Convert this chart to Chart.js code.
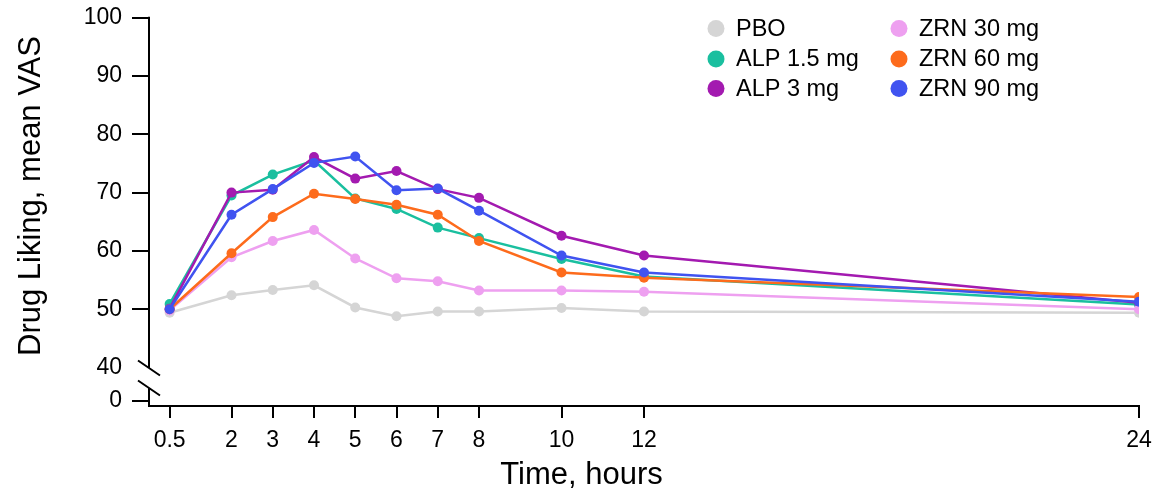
<!DOCTYPE html>
<html>
<head>
<meta charset="utf-8">
<script src="https://cdn.jsdelivr.net/npm/chart.js@4.4.1/dist/chart.umd.min.js"></script>
<style>
  html, body { margin: 0; padding: 0; background: #fff; }
</style>
</head>
<body>
<canvas id="chart" width="1155" height="491"></canvas>
<script>
// Sampling times (hours)
const hours = [0.5, 2, 3, 4, 5, 6, 7, 8, 10, 12, 24];

// Mean VAS drug liking per treatment
const seriesNames = ['PBO', 'ALP 1.5 mg', 'ALP 3 mg', 'ZRN 30 mg', 'ZRN 60 mg', 'ZRN 90 mg'];
const pbo   = [49.4, 52.4, 53.3, 54.1, 50.3, 48.8, 49.6, 49.6, 50.2, 49.6, 49.4];
const alp15 = [50.9, 69.5, 73.1, 75.5, 69.0, 67.2, 64.0, 62.2, 58.6, 55.6, 50.8];
const alp3  = [50.1, 70.0, 70.5, 76.1, 72.4, 73.7, 70.6, 69.1, 62.6, 59.2, 51.1];
const zrn30 = [49.8, 58.9, 61.7, 63.6, 58.7, 55.3, 54.8, 53.2, 53.2, 53.0, 50.0];
const zrn60 = [50.0, 59.6, 65.8, 69.8, 68.9, 67.9, 66.2, 61.7, 56.3, 55.4, 52.1];
const zrn90 = [50.0, 66.2, 70.6, 75.1, 76.2, 70.4, 70.7, 66.9, 59.2, 56.3, 51.3];
const seriesColors = ['#d5d5d5', '#1abf9f', '#a31ab0', '#eea0f0', '#fd6b1c', '#4053f0'];

// Axis ticks (y axis is broken between 0 and 40)
const xTicks = [0.5, 2, 3, 4, 5, 6, 7, 8, 10, 12, 24];
const yZeroPos = 34.25; // where the "0" label sits below the break
const yTicks = [yZeroPos, 40, 50, 60, 70, 80, 90, 100];
const yTickLabels = ['0', '40', '50', '60', '70', '80', '90', '100'];

const FONT = "'Liberation Sans', Arial, sans-serif";
const allSeries = [pbo, alp15, alp3, zrn30, zrn60, zrn90];

const datasets = allSeries.map((vals, i) => ({
  label: seriesNames[i],
  data: hours.map((h, j) => ({ x: h, y: vals[j] })),
  borderColor: seriesColors[i],
  backgroundColor: seriesColors[i],
  pointBackgroundColor: seriesColors[i],
  pointBorderColor: seriesColors[i],
  borderWidth: 2.5,
  pointRadius: 5,
  pointBorderWidth: 0,
  order: allSeries.length - i, // later series drawn on top
  tension: 0,
}));

// Broken y axis line, legend and axis titles
const extras = {
  id: 'extras',
  afterDraw(chart) {
    const { ctx, chartArea, scales } = chart;
    const x0 = chartArea.left;
    const y40 = scales.y.getPixelForValue(40);

    ctx.save();
    ctx.strokeStyle = '#000';
    ctx.lineWidth = 2;
    ctx.beginPath();
    ctx.moveTo(x0, chartArea.top - 1);
    ctx.lineTo(x0, y40 + 1);
    ctx.moveTo(x0, y40 + 21);
    ctx.lineTo(x0, chartArea.bottom + 1);
    ctx.moveTo(x0 - 11, y40 - 7);
    ctx.lineTo(x0 + 11, y40 + 8);
    ctx.moveTo(x0 - 11, y40 + 13);
    ctx.lineTo(x0 + 11, y40 + 28);
    ctx.stroke();

    // legend, two columns
    const cols = [716, 899];
    const rows = [28.5, 59, 88.5];
    ctx.font = '23.5px ' + FONT;
    ctx.textBaseline = 'middle';
    ctx.textAlign = 'left';
    seriesNames.forEach((name, i) => {
      const cx = cols[Math.floor(i / 3)];
      const cy = rows[i % 3];
      ctx.fillStyle = seriesColors[i];
      ctx.beginPath();
      ctx.arc(cx, cy, 8.5, 0, Math.PI * 2);
      ctx.fill();
      ctx.fillStyle = '#000';
      ctx.fillText(name, cx + 20, cy + 1);
    });

    // axis titles
    ctx.font = '31px ' + FONT;
    ctx.textAlign = 'center';
    ctx.fillText('Time, hours', chart.width / 2 + 4, 475);
    ctx.translate(31, 196);
    ctx.rotate(-Math.PI / 2);
    ctx.fillText('Drug Liking, mean VAS', 0, 0);
    ctx.restore();
  }
};

new Chart(document.getElementById('chart'), {
  type: 'line',
  data: { datasets },
  plugins: [extras],
  options: {
    responsive: false,
    animation: false,
    devicePixelRatio: 1,
    layout: { padding: { top: 17.7, right: 16, left: 0, bottom: 0 } },
    plugins: { legend: { display: false }, tooltip: { enabled: false } },
    scales: {
      x: {
        type: 'linear',
        min: 0,
        max: 24,
        afterBuildTicks: (scale) => { scale.ticks = xTicks.map(v => ({ value: v })); },
        afterFit: (scale) => {
          scale.height = 85;
          scale.paddingLeft = 0; scale.paddingRight = 0;
          scale.paddingTop = 0; scale.paddingBottom = 0;
        },
        border: { display: true, color: '#000', width: 2 },
        grid: { drawOnChartArea: false, drawTicks: true, tickLength: 12, color: '#000', lineWidth: 2 },
        ticks: {
          autoSkip: false, maxRotation: 0, color: '#000', padding: 9,
          font: { family: FONT, size: 23 },
          callback: (v) => String(v),
        },
      },
      y: {
        type: 'linear',
        min: 33.4,
        max: 100,
        afterBuildTicks: (scale) => { scale.ticks = yTicks.map(v => ({ value: v })); },
        afterFit: (scale) => {
          scale.width = 149;
          scale.paddingLeft = 0; scale.paddingRight = 0;
          scale.paddingTop = 0; scale.paddingBottom = 0;
        },
        border: { display: false },
        grid: {
          drawOnChartArea: false, drawTicks: true, tickLength: 17, lineWidth: 2,
          color: (c) => (c.tick && c.tick.value === 40 ? 'rgba(0,0,0,0)' : '#000'),
        },
        ticks: {
          autoSkip: false, color: '#000', padding: 10,
          font: { family: FONT, size: 23 },
          callback: (v) => yTickLabels[yTicks.indexOf(v)],
        },
      },
    },
  },
});
</script>
</body>
</html>
